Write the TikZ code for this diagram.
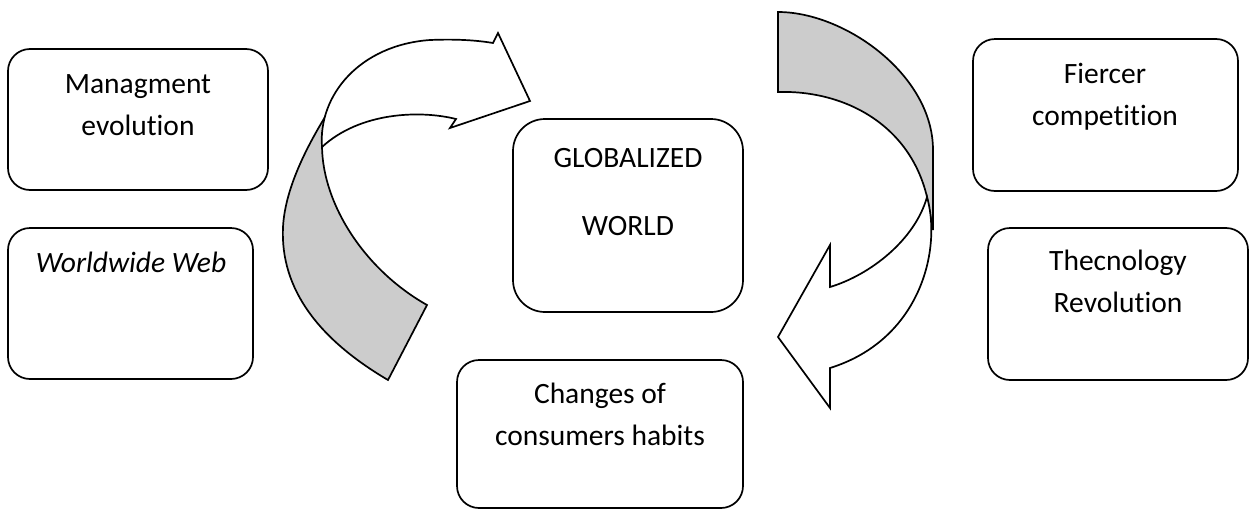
\documentclass[tikz,border=0pt]{standalone}
\usepackage{fontspec}
\setmainfont{Carlito}[Ligatures=NoCommon]
\usepackage{tikz}
\usetikzlibrary{positioning}
\definecolor{backgray}{HTML}{CCCCCC}
\tikzset{box/.style = {draw, line width=1.7pt, rounded corners=22pt,
                       inner sep=0pt, outer sep=0pt, anchor=north west},
         boxtext/.style = {anchor=base, align=center, inner sep=0pt,
                           font=\fontsize{29.5}{42}\selectfont},
         ribbon/.style = {draw, line width=1.7pt, line join=miter}}

\begin{document}
\begin{tikzpicture}[x=1pt, y=-1pt]
  \useasboundingbox (0,0) rectangle (1250,509);

  % boxes
  \node[box, minimum width=260pt, minimum height=141pt] (mgmt) at (8,49) {};
  \node[box, minimum width=245pt, minimum height=151pt] (web) at (8,228) {};
  \node[box, minimum width=230pt, minimum height=193pt, rounded corners=32pt] (world) at (513,119) {};
  \node[box, minimum width=286pt, minimum height=148pt] (habits) at (457,360) {};
  \node[box, minimum width=265pt, minimum height=152pt] (fierce) at (973,39) {};
  \node[box, minimum width=260pt, minimum height=152pt] (tech) at (988,228) {};

  % texts (base = last line)
  \node[boxtext] (mgmt-txt) at (138,135) {Managment\\evolution};
  \node[boxtext, font=\fontsize{29.5}{42}\selectfont\itshape] (web-txt) at (131,272) {Worldwide Web};
  \node[boxtext] (world-txt) at (628,235) {GLOBALIZED\\[26pt]WORLD};
  \node[boxtext] (habits-txt) at (600,445) {Changes of\\consumers habits};
  \node[boxtext] (fierce-txt) at (1105,125) {Fiercer\\competition};
  \node[boxtext] (tech-txt) at (1118,312) {Thecnology\\Revolution};

  % left curved arrow
  \draw[ribbon, fill=backgray] (388,380) .. controls (320,340) and (280,290) .. (283,227)
    .. controls (285,190) and (305,150) .. (325,117) -- (322,147)
    .. controls (323,205) and (365,270) .. (427,305) -- cycle;
  \draw[ribbon, fill=white] (322,147) .. controls (318,95) and (360,45) .. (430,40)
    .. controls (455,39) and (475,40) .. (493,43) -- (498,33) -- (530,101)
    -- (450,128) -- (456,119) .. controls (420,110) and (360,112) .. (322,147) -- cycle;

  % right curved arrow
  \draw[ribbon, fill=backgray] (778,12) .. controls (845,12) and (933,75) .. (933,150)
    -- (933,230) -- (927,197) .. controls (910,125) and (845,90) .. (778,92) -- cycle;
  \draw[ribbon, fill=white] (927,197) .. controls (942,250) and (920,340) .. (830,368)
    -- (830,408) -- (778,337) -- (830,245) -- (830,287)
    .. controls (870,275) and (915,240) .. (927,197) -- cycle;
\end{tikzpicture}
\end{document}
